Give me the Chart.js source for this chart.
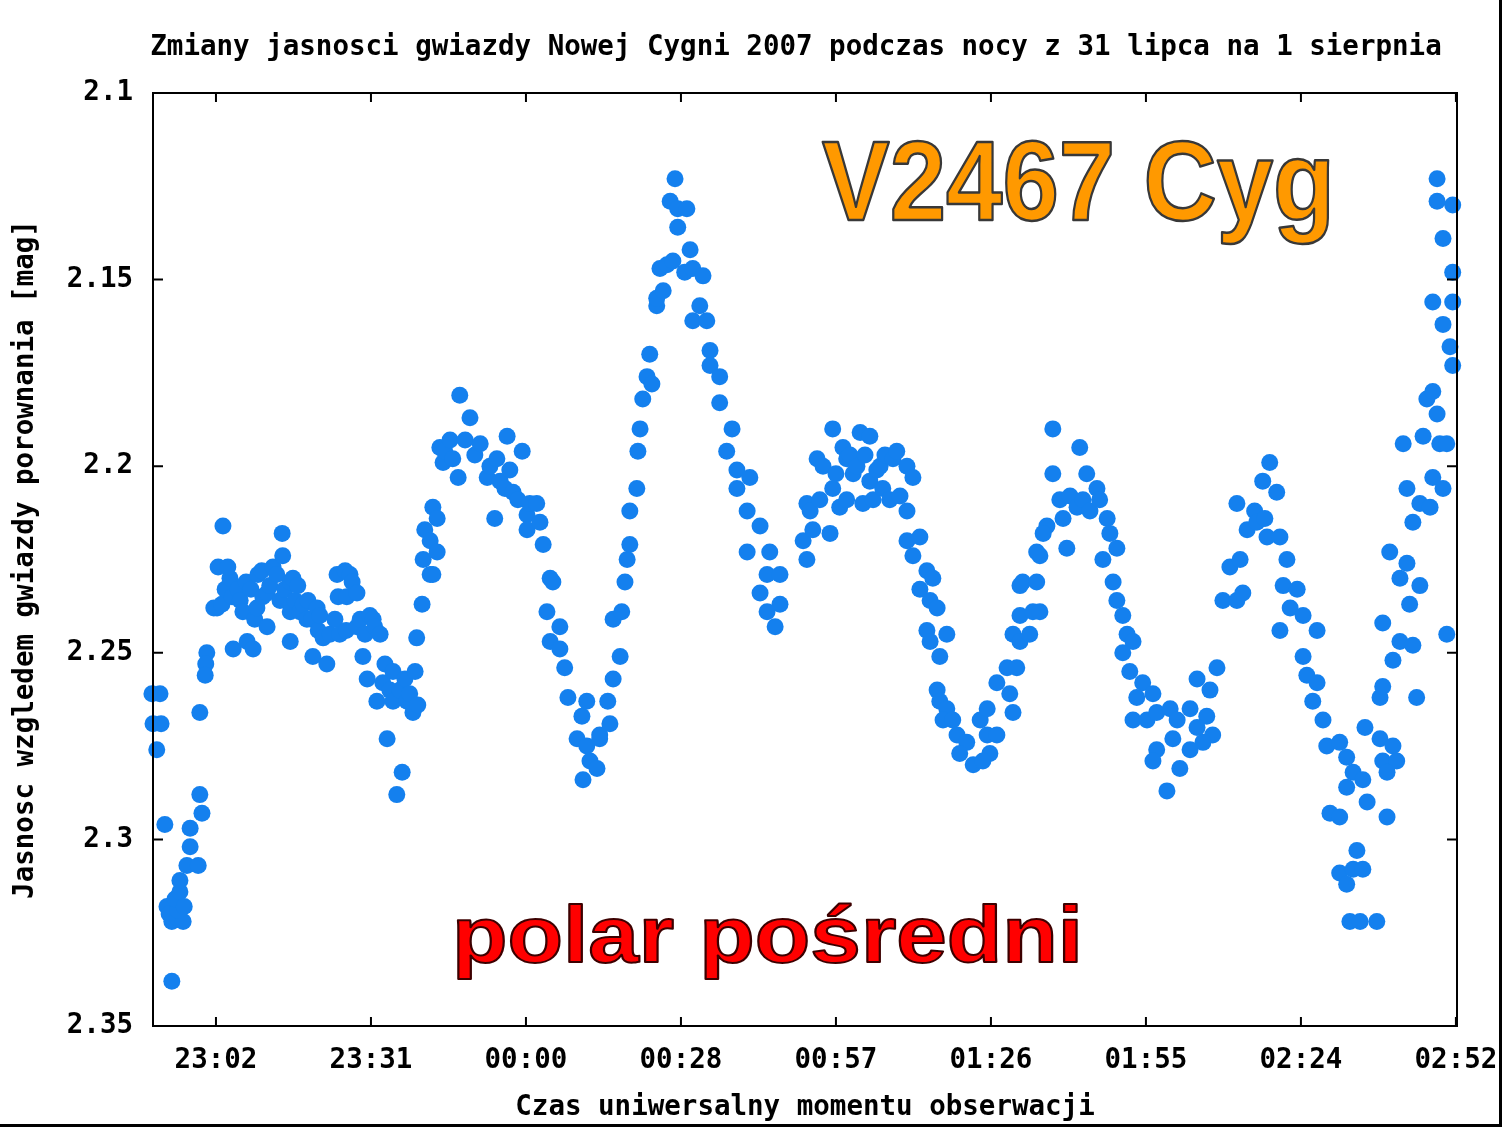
<!DOCTYPE html>
<html>
<head>
<meta charset="utf-8">
<title>V2467 Cyg</title>
<script src="https://cdn.jsdelivr.net/npm/chart.js@4.4.0/dist/chart.umd.min.js"></script>
<style>
    html, body { margin: 0; padding: 0; background: #fff; }
    #wrap { width: 1499px; height: 1124px; border-right: 3px solid #000; border-bottom: 3px solid #000; }
</style>
</head>
<body>
<div id="wrap"><canvas id="lightCurve"></canvas></div>
<script>
// tick positions in minutes after 22:00 UT
var xTickValues = [62.5, 91.3, 120.1, 148.9, 177.7, 206.5, 235.3, 264.1, 292.9];
var xTickLabels = ['23:02', '23:31', '00:00', '00:28', '00:57', '01:26', '01:55', '02:24', '02:52'];
var yTickValues = [2.1, 2.15, 2.2, 2.25, 2.3, 2.35];

// observation time, minutes after 22:00 UT
var obsMinutes = [
    // 22:50 - 23:01
    50.6, 52.1, 50.8, 52.3, 51.5, 53.0, 54.3, 53.4, 53.8, 54.3,
    55.3, 56.4, 55.4, 54.9, 55.8, 56.6, 55.8, 57.1, 57.7, 59.2,
    57.7, 59.9, 59.5, 59.5, 60.8, 60.6, 60.5,
    // 23:02 - 23:40
    62.9, 63.8, 62.7, 62.1, 63.6, 64.2, 65.1, 64.7, 65.5, 66.6,
    67.0, 65.7, 67.5, 68.1, 68.3, 69.0, 69.4, 69.7, 70.3, 70.1,
    71.0, 71.2, 72.0, 72.5, 72.0, 73.1, 73.8, 74.4, 74.8, 74.9,
    75.3, 76.3, 76.3, 76.3, 76.8, 77.2, 77.7, 78.1, 78.7, 79.4,
    79.6, 80.3, 81.3, 80.5, 81.5, 81.8, 82.4, 83.1, 83.7, 84.6,
    85.0, 85.2, 86.5, 87.4, 86.8, 87.8, 88.7, 85.5, 86.7, 88.7,
    89.3, 89.8, 90.2, 90.6, 91.1, 91.7, 92.0, 93.0, 92.4, 93.5,
    93.9, 94.3, 94.8, 95.4, 95.4, 96.1, 96.7, 97.1, 97.6, 98.0,
    98.5, 99.1, 99.5, 100.0,
    // 23:40 - 00:22
    99.8, 100.8, 101.0, 101.3, 102.3, 102.3, 102.8, 102.8, 103.6, 103.6,
    104.1, 104.7, 105.0, 106.0, 106.5, 107.5, 107.8, 108.8, 109.7, 110.6,
    111.6, 112.9, 113.4, 114.7, 114.3, 115.3, 116.2, 116.6, 117.1, 117.7,
    118.6, 119.4, 120.3, 120.8, 120.3, 122.1, 122.7, 123.3, 124.6, 125.1,
    124.0, 126.4, 124.6, 126.4, 127.3, 127.9, 130.5, 129.6, 131.4, 132.0,
    133.3, 130.7, 131.4, 133.8, 133.8, 135.7, 135.3, 136.3, 137.6, 136.3,
    137.9, 138.5, 138.9, 139.4, 139.4, 140.7, 140.9, 141.3, 141.8,
    // 00:22 - 00:47
    142.6, 143.1, 143.5, 144.4, 144.4, 145.0, 145.6, 146.3, 147.4, 146.9,
    147.8, 148.3, 150.0, 148.3, 150.6, 149.6, 151.1, 153.0, 152.4, 151.1,
    153.7, 154.3, 154.3, 156.1, 156.1, 158.4, 157.4, 159.3, 161.7, 159.3,
    161.2, 163.6, 161.2, 165.4, 164.9, 167.3, 163.6, 167.3, 164.9, 166.4,
    // 00:51 - 01:32
    171.6, 172.3, 172.3, 172.9, 173.4, 174.7, 174.2, 175.3, 176.6, 177.1,
    177.1, 177.7, 178.4, 179.0, 179.7, 179.7, 180.3, 180.9, 181.6, 182.2,
    182.7, 183.1, 184.0, 184.0, 184.6, 185.3, 185.9, 186.4, 186.8, 187.7,
    188.3, 189.0, 189.6, 190.9, 190.9, 192.0, 190.9, 193.3, 192.0, 194.6,
    195.7, 193.3, 195.2, 196.5, 194.6, 198.3, 195.2, 197.0, 196.5, 197.0,
    198.3, 197.6, 199.4, 200.2, 202.0, 200.7, 203.2, 204.5, 205.8, 206.3,
    205.0, 207.6, 205.8, 207.6, 210.0, 210.6, 209.5, 210.6, 211.9, 211.9,
    // 01:31 - 02:09
    211.3, 211.9, 213.7, 214.3, 215.6, 212.4, 215.0, 215.6, 215.0, 216.9,
    216.2, 218.0, 218.0, 219.3, 219.9, 220.6, 221.2, 222.5, 223.0, 223.6,
    224.3, 224.9, 226.2, 226.7, 228.1, 228.6, 229.9, 227.3, 229.2, 229.9,
    231.0, 231.8, 232.9, 231.0, 232.3, 234.7, 233.6, 236.6, 232.9, 235.5,
    237.3, 239.8, 241.1, 243.5, 244.8, 247.2, 248.5, 246.6, 247.7, 245.9,
    243.5, 241.6, 237.3, 236.6, 239.2, 240.3, 244.8,
    // 02:09 - 02:52
    249.6, 250.9, 252.2, 252.2, 252.8, 253.3, 254.1, 255.5, 255.9, 257.0,
    257.4, 257.8, 258.3, 259.6, 260.2, 261.5, 260.8, 262.1, 263.4, 260.2,
    264.5, 267.1, 264.5, 265.2, 267.1, 266.3, 268.2, 268.9, 271.3, 272.6,
    273.8, 275.6, 272.6, 276.4, 269.5, 271.3, 274.5, 271.3, 273.8, 275.6,
    272.6, 273.2, 275.1, 278.2, 276.0, 278.8, 281.2, 279.3, 281.9, 280.1,
    280.1, 278.8, 279.3, 281.2, 279.3, 282.5, 284.9, 291.2, 280.6, 283.8,
    286.2, 282.5, 284.3, 285.6, 283.1, 283.8, 286.2, 284.9, 288.1, 288.6,
    290.5, 286.8, 289.9, 291.2, 287.5, 288.6, 289.4, 292.3, 291.8, 290.5,
    288.6, 292.3, 290.5, 292.3, 292.3, 289.4, 289.4
];

// brightness relative to the comparison star [mag]
var obsMag = [
    2.261, 2.261, 2.269, 2.269, 2.276, 2.296, 2.338, 2.318, 2.320, 2.322,
    2.321, 2.322, 2.319, 2.316, 2.314, 2.318, 2.311, 2.307, 2.302, 2.307,
    2.297, 2.293, 2.288, 2.266, 2.250, 2.253, 2.256,

    2.227, 2.216, 2.238, 2.238, 2.237, 2.233, 2.230, 2.227, 2.235, 2.233,
    2.236, 2.249, 2.239, 2.231, 2.247, 2.233, 2.249, 2.241, 2.229, 2.238,
    2.228, 2.235, 2.234, 2.232, 2.243, 2.227, 2.229, 2.236, 2.218, 2.224,
    2.233, 2.231, 2.239, 2.247, 2.230, 2.236, 2.232, 2.239, 2.237, 2.241,
    2.236, 2.241, 2.238, 2.251, 2.244, 2.240, 2.246, 2.253, 2.245, 2.241,
    2.229, 2.235, 2.228, 2.229, 2.235, 2.231, 2.234, 2.245, 2.244, 2.243,
    2.241, 2.251, 2.245, 2.257, 2.240, 2.241, 2.243, 2.245, 2.263, 2.258,
    2.253, 2.273, 2.260, 2.255, 2.263, 2.288, 2.260, 2.282, 2.257, 2.263,
    2.261, 2.266, 2.255, 2.264,

    2.246, 2.237, 2.225, 2.217, 2.220, 2.229, 2.211, 2.229, 2.214, 2.223,
    2.195, 2.199, 2.196, 2.193, 2.198, 2.203, 2.181, 2.193, 2.187, 2.197,
    2.194, 2.203, 2.200, 2.198, 2.214, 2.204, 2.206, 2.192, 2.201, 2.207,
    2.209, 2.196, 2.213, 2.210, 2.217, 2.210, 2.215, 2.221, 2.230, 2.231,
    2.239, 2.243, 2.247, 2.249, 2.254, 2.262, 2.267, 2.273, 2.275, 2.279,
    2.281, 2.284, 2.263, 2.272, 2.273, 2.269, 2.263, 2.257, 2.251, 2.241,
    2.239, 2.231, 2.225, 2.221, 2.212, 2.206, 2.196, 2.190, 2.182,

    2.176, 2.170, 2.178, 2.157, 2.155, 2.147, 2.153, 2.146, 2.145, 2.129,
    2.123, 2.131, 2.131, 2.136, 2.142, 2.148, 2.147, 2.149, 2.157, 2.161,
    2.161, 2.169, 2.173, 2.176, 2.183, 2.190, 2.196, 2.201, 2.203, 2.206,
    2.212, 2.216, 2.223, 2.223, 2.229, 2.229, 2.234, 2.237, 2.239, 2.243,

    2.220, 2.225, 2.210, 2.212, 2.217, 2.209, 2.198, 2.200, 2.218, 2.190,
    2.206, 2.202, 2.211, 2.195, 2.198, 2.209, 2.197, 2.202, 2.200, 2.191,
    2.210, 2.197, 2.192, 2.204, 2.209, 2.201, 2.200, 2.206, 2.197, 2.209,
    2.198, 2.196, 2.208, 2.200, 2.212, 2.203, 2.220, 2.219, 2.224, 2.228,
    2.230, 2.233, 2.236, 2.238, 2.244, 2.245, 2.247, 2.251, 2.260, 2.263,
    2.265, 2.268, 2.268, 2.272, 2.274, 2.277, 2.280, 2.268, 2.272, 2.277,
    2.279, 2.272, 2.265, 2.258, 2.261, 2.266, 2.254, 2.245, 2.240, 2.232,

    2.254, 2.247, 2.245, 2.239, 2.239, 2.231, 2.231, 2.224, 2.223, 2.216,
    2.218, 2.190, 2.202, 2.209, 2.214, 2.222, 2.208, 2.211, 2.195, 2.209,
    2.202, 2.212, 2.206, 2.209, 2.214, 2.218, 2.222, 2.225, 2.231, 2.236,
    2.240, 2.245, 2.247, 2.250, 2.255, 2.258, 2.262, 2.261, 2.268, 2.268,
    2.266, 2.265, 2.268, 2.265, 2.257, 2.260, 2.254, 2.267, 2.272, 2.274,
    2.276, 2.281, 2.276, 2.279, 2.287, 2.273, 2.270,

    2.236, 2.227, 2.236, 2.210, 2.225, 2.234, 2.217, 2.212, 2.215, 2.204,
    2.214, 2.219, 2.199, 2.207, 2.219, 2.225, 2.232, 2.238, 2.233, 2.244,
    2.240, 2.244, 2.251, 2.256, 2.258, 2.263, 2.268, 2.275, 2.274, 2.278,
    2.282, 2.284, 2.286, 2.290, 2.293, 2.294, 2.303, 2.309, 2.308, 2.308,
    2.312, 2.322, 2.322, 2.322, 2.270, 2.273, 2.275, 2.279, 2.279, 2.282,
    2.294, 2.262, 2.259, 2.252, 2.242, 2.247, 2.248, 2.245, 2.223, 2.226,
    2.232, 2.230, 2.237, 2.262, 2.194, 2.206, 2.210, 2.215, 2.211, 2.203,
    2.206, 2.192, 2.194, 2.194, 2.182, 2.180, 2.186, 2.173, 2.168, 2.162,
    2.156, 2.156, 2.139, 2.148, 2.130, 2.129, 2.123
];

var points = obsMinutes.map(function (t, i) {
    return { x: t, y: obsMag[i] };
});

var monoFont = { family: "'DejaVu Sans Mono', 'Liberation Mono', monospace", size: 27.5, weight: 'bold' };

// stretched, outlined caption text
function drawCaption(ctx, text, x, y, targetWidth, font, fill, stroke, lineWidth) {
    ctx.save();
    ctx.font = font;
    var sx = targetWidth / ctx.measureText(text).width;
    ctx.translate(x, y);
    ctx.scale(sx, 1);
    ctx.textAlign = 'left';
    ctx.textBaseline = 'alphabetic';
    ctx.fillStyle = fill;
    ctx.fillText(text, 0, 0);
    ctx.lineJoin = 'round';
    ctx.lineWidth = lineWidth;
    ctx.strokeStyle = stroke;
    ctx.strokeText(text, 0, 0);
    ctx.restore();
}

// gnuplot style frame with inward ticks on all sides
var framePlugin = {
    id: 'gnuplotFrame',
    afterLayout: function (chart) {
        // the title in the original sits a little left of the plot centre
        if (chart.titleBlock) {
            chart.titleBlock.left -= 9;
            chart.titleBlock.right -= 9;
        }
    },
    afterDatasetsDraw: function (chart) {
        var ctx = chart.ctx, a = chart.chartArea;
        var xs = chart.scales.x, ys = chart.scales.y;
        ctx.save();
        ctx.strokeStyle = '#000';
        ctx.lineWidth = 2;
        ctx.strokeRect(a.left, a.top, a.right - a.left, a.bottom - a.top);
        ctx.beginPath();
        xs.ticks.forEach(function (t) {
            var px = xs.getPixelForValue(t.value);
            ctx.moveTo(px, a.bottom); ctx.lineTo(px, a.bottom - 9);
            ctx.moveTo(px, a.top); ctx.lineTo(px, a.top + 9);
        });
        ys.ticks.forEach(function (t) {
            var py = ys.getPixelForValue(t.value);
            ctx.moveTo(a.left, py); ctx.lineTo(a.left + 10, py);
            ctx.moveTo(a.right, py); ctx.lineTo(a.right - 10, py);
        });
        ctx.stroke();
        ctx.restore();
    },
    afterDraw: function (chart) {
        var ctx = chart.ctx;
        drawCaption(ctx, 'V2467 Cyg', 822, 220, 513,
            'bold 114px "Liberation Sans", Arial, sans-serif', '#ff9900', '#383838', 2.5);
        drawCaption(ctx, 'polar pośredni', 452, 962, 631,
            'bold 80px "Liberation Sans", Arial, sans-serif', '#ff0000', '#3c0000', 2);
    }
};

var ctx = document.getElementById('lightCurve').getContext('2d');
var chart = new Chart(ctx, {
    type: 'scatter',
    data: {
        datasets: [{
            label: 'V2467 Cyg',
            data: points,
            pointRadius: 8.5,
            pointHoverRadius: 8.5,
            pointBackgroundColor: '#1480ee',
            pointBorderWidth: 0,
            showLine: false,
            clip: false
        }]
    },
    options: {
        responsive: true,
        maintainAspectRatio: false,
        animation: false,
        layout: { padding: { left: 0, right: 42, top: 0, bottom: 0 } },
        plugins: {
            legend: { display: false },
            tooltip: { enabled: false },
            title: {
                display: true,
                fullSize: false,
                text: 'Zmiany jasnosci gwiazdy Nowej Cygni 2007 podczas nocy z 31 lipca na 1 sierpnia',
                color: '#000',
                font: monoFont,
                padding: { top: 31, bottom: 29 }
            }
        },
        scales: {
            x: {
                type: 'linear',
                min: 50.8,
                max: 293.1,
                afterBuildTicks: function (scale) {
                    scale.ticks = xTickValues.map(function (v) { return { value: v }; });
                },
                afterFit: function (scale) {
                    scale.height = 98;
                    scale.paddingLeft = 0;
                    scale.paddingRight = 0;
                },
                ticks: {
                    autoSkip: false,
                    maxRotation: 0,
                    padding: 18,
                    color: '#000',
                    font: monoFont,
                    callback: function (value, index) { return xTickLabels[index]; }
                },
                grid: { display: false, drawTicks: false },
                border: { display: false },
                title: {
                    display: true,
                    text: 'Czas uniwersalny momentu obserwacji',
                    color: '#000',
                    font: monoFont,
                    padding: { top: 0, bottom: 0 }
                }
            },
            y: {
                type: 'linear',
                reverse: true,
                min: 2.1,
                max: 2.35,
                afterBuildTicks: function (scale) {
                    scale.ticks = yTickValues.map(function (v) { return { value: v }; });
                },
                afterFit: function (scale) {
                    scale.width = 153;
                    scale.paddingTop = 0;
                    scale.paddingBottom = 0;
                },
                ticks: {
                    padding: 20,
                    color: '#000',
                    font: monoFont,
                    callback: function (value) { return String(+value.toFixed(2)); }
                },
                grid: { display: false, drawTicks: false },
                border: { display: false },
                title: {
                    display: true,
                    text: 'Jasnosc wzgledem gwiazdy porownania [mag]',
                    color: '#000',
                    font: monoFont,
                    padding: { top: 9, bottom: 0 }
                }
            }
        }
    },
    plugins: [framePlugin]
});
</script>
</body>
</html>
